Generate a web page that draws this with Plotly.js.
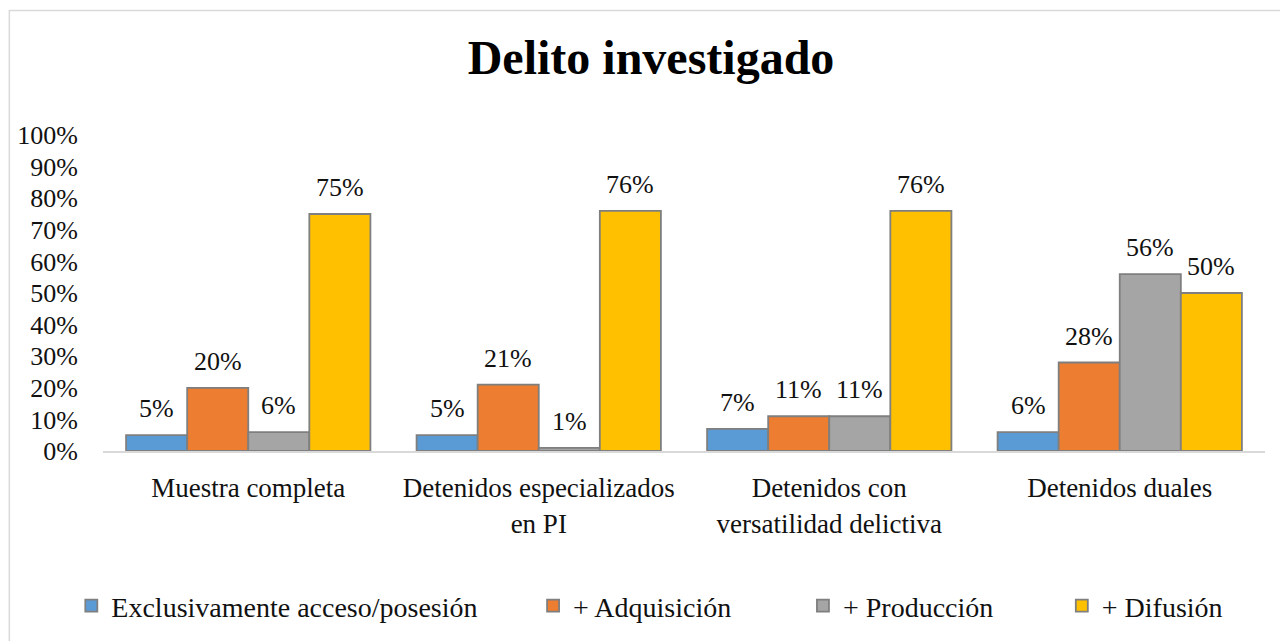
<!DOCTYPE html>
<html>
<head>
<meta charset="utf-8">
<script src="https://cdn.plot.ly/plotly-3.0.1.min.js"></script>
</head>
<body style="margin:0;background:#fff">
<div id="chart" style="width:1280px;height:641px"></div>
<script>
const categories = ['Muestra completa', 'Detenidos especializados<br>en PI', 'Detenidos con<br>versatilidad delictiva', 'Detenidos duales'];
const seriesNames = ['Exclusivamente acceso/posesión', '+ Adquisición', '+ Producción', '+ Difusión'];
const accesoPosesion = [0.05, 0.05, 0.07, 0.06];
const adquisicion = [0.20, 0.21, 0.11, 0.28];
const produccion = [0.06, 0.01, 0.11, 0.56];
const difusion = [0.75, 0.76, 0.76, 0.50];
const colors = ['#5B9BD5', '#ED7D31', '#A5A5A5', '#FFC000'];
const yTickVals = [0, 0.1, 0.2, 0.3, 0.4, 0.5, 0.6, 0.7, 0.8, 0.9, 1.0];

const seriesValues = [accesoPosesion, adquisicion, produccion, difusion];
const FAM = 'Liberation Serif';
const bargap = 0.159;
const legendNames = ['legend', 'legend2', 'legend3', 'legend4'];

const traces = seriesValues.map((vals, i) => ({
  type: 'bar',
  name: seriesNames[i],
  x: categories,
  y: vals,
  marker: {color: colors[i], line: {color: '#7F7F7F', width: 1.8}},
  legend: legendNames[i],
  hoverinfo: 'skip'
}));

// data labels placed above each bar via the category axis
const barW = (1 - bargap) / seriesValues.length;
const annotations = [];
seriesValues.forEach((vals, i) => {
  vals.forEach((v, j) => {
    annotations.push({
      xref: 'x', yref: 'y',
      x: j + (i - (seriesValues.length - 1) / 2) * barW,
      y: v,
      text: Math.round(v * 100) + '%',
      showarrow: false,
      yanchor: 'bottom',
      yshift: 10,
      font: {family: FAM, size: 26, color: '#111'}
    });
  });
});

// plot area in pixels
const L = 102.7, R = 1265.3, T = 135, B = 452;
const pw = R - L, ph = B - T;
const px = v => (v - L) / pw;
const py = v => (B - v) / ph;

const legendLeft = [71, 533, 803, 1062];
const legends = {};
legendNames.forEach((n, i) => {
  legends[n] = {
    x: px(legendLeft[i]), xanchor: 'left',
    y: py(606), yanchor: 'middle',
    orientation: 'h',
    bgcolor: 'rgba(0,0,0,0)',
    font: {family: FAM, size: 28, color: '#111'},
    itemwidth: 30
  };
});

const layout = Object.assign({
  width: 1280, height: 641,
  margin: {l: L, r: 1280 - R, t: T, b: 641 - B, pad: 0},
  paper_bgcolor: '#fff', plot_bgcolor: '#fff',
  barmode: 'group',
  bargap: bargap,
  bargroupgap: 0,
  showlegend: true,
  title: {
    text: '<b>Delito investigado</b>',
    font: {family: FAM, size: 48, color: '#000'},
    x: 651 / 1280, xref: 'container', xanchor: 'center',
    y: 1 - 57 / 641, yref: 'container', yanchor: 'middle'
  },
  xaxis: {
    type: 'category',
    showline: true, linecolor: '#D9D9D9', linewidth: 2,
    showgrid: false, zeroline: false,
    ticks: '',
    ticklabelstandoff: 12,
    tickfont: {family: FAM, size: 27, color: '#111'}
  },
  yaxis: {
    range: [0, 1],
    tickvals: yTickVals,
    tickformat: '.0%',
    showline: false, showgrid: false, zeroline: false,
    ticks: '',
    ticklabelstandoff: 24,
    tickfont: {family: FAM, size: 26, color: '#111'}
  },
  annotations: annotations,
  shapes: [{
    type: 'rect', xref: 'paper', yref: 'paper',
    x0: px(9), x1: px(1295), y0: py(660), y1: py(10),
    line: {color: '#D9D9D9', width: 1.5}, fillcolor: 'rgba(0,0,0,0)', layer: 'below'
  }]
}, legends);

Plotly.newPlot('chart', traces, layout, {displayModeBar: false});
</script>
</body>
</html>
